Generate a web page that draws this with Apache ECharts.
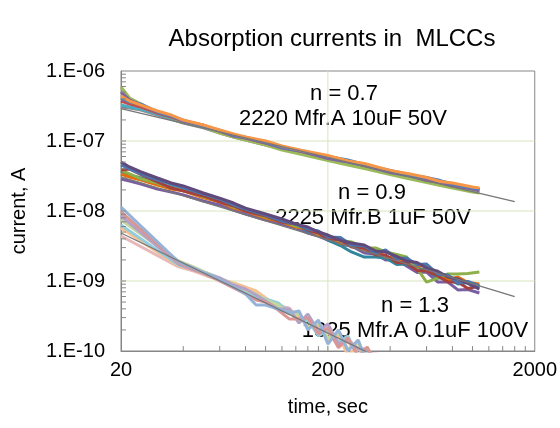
<!DOCTYPE html>
<html><head><meta charset="utf-8">
<script src="https://cdn.jsdelivr.net/npm/echarts@6/dist/echarts.min.js"></script>
<style>html,body{margin:0;padding:0;background:#fff}#c{width:560px;height:428px}</style>
</head><body><div id="c"></div>
<script>
// ---- axis ticks / grid ----
const X_LABELS = [20, 200, 2000];
const X_GRID = [200];
const X_MINOR = [40, 60, 80, 100, 120, 140, 160, 180, 200, 400, 600, 800, 1000, 1200, 1400, 1600, 1800];
const Y_MAJOR = [1e-10, 1e-9, 1e-8, 1e-7, 1e-6];
const Y_GRID = [1e-9, 1e-8, 1e-7];
const Y_MINOR = [2e-10,3e-10,4e-10,5e-10,6e-10,7e-10,8e-10,9e-10,1e-9,2e-9,3e-9,4e-9,5e-9,6e-9,7e-9,8e-9,9e-9,1e-8,
  2e-8,3e-8,4e-8,5e-8,6e-8,7e-8,8e-8,9e-8,1e-7,2e-7,3e-7,4e-7,5e-7,6e-7,7e-7,8e-7,9e-7];

// ---- group A: 2220 Mfr.A 10uF 50V ----
const TIME_A = [20, 22, 25, 30, 35, 40, 50, 60, 70, 80, 100, 120, 150, 200, 250, 300, 400, 500, 600, 700, 800, 1000, 1080];
const A_GRAY   = [3.06e-7,2.96e-7,2.77e-7,2.35e-7,2.06e-7,1.81e-7,1.54e-7,1.30e-7,1.14e-7,1.03e-7,8.76e-8,7.68e-8,6.62e-8,5.44e-8,4.69e-8,4.18e-8,3.44e-8,2.96e-8,2.64e-8,2.39e-8,2.20e-8,1.93e-8,1.87e-8];
const A_AQUA   = [3.26e-7,3.06e-7,2.86e-7,2.43e-7,2.13e-7,1.87e-7,1.59e-7,1.35e-7,1.18e-7,1.06e-7,9.36e-8,7.94e-8,6.84e-8,5.81e-8,5.01e-8,4.33e-8,3.67e-8,3.16e-8,2.82e-8,2.55e-8,2.35e-8,2.13e-8,2.07e-8];
const A_GREEN  = [5.90e-7,4.12e-7,3.38e-7,2.59e-7,2.20e-7,1.87e-7,1.59e-7,1.30e-7,1.14e-7,1.03e-7,8.76e-8,7.43e-8,6.41e-8,5.26e-8,4.54e-8,4.05e-8,3.33e-8,2.86e-8,2.55e-8,2.31e-8,2.13e-8,1.87e-8,1.81e-8];
const A_RED    = [3.73e-7,3.38e-7,3.06e-7,2.51e-7,2.20e-7,1.93e-7,1.69e-7,1.39e-7,1.22e-7,1.10e-7,9.36e-8,8.20e-8,7.07e-8,5.81e-8,5.18e-8,4.47e-8,3.67e-8,3.26e-8,2.82e-8,2.63e-8,2.35e-8,2.13e-8,2.00e-8];
const A_PURPLE = [5.01e-7,3.86e-7,3.27e-7,2.59e-7,2.27e-7,1.93e-7,1.64e-7,1.39e-7,1.18e-7,1.10e-7,9.36e-8,7.94e-8,7.07e-8,5.62e-8,5.01e-8,4.47e-8,3.55e-8,3.16e-8,2.73e-8,2.55e-8,2.27e-8,2.06e-8,1.94e-8];
const A_BLUE   = [4.11e-7,3.61e-7,3.38e-7,2.60e-7,2.28e-7,1.98e-7,1.64e-7,1.43e-7,1.22e-7,1.13e-7,9.67e-8,8.20e-8,7.28e-8,6.00e-8,5.35e-8,4.62e-8,3.80e-8,3.26e-8,3.02e-8,2.72e-8,2.43e-8,2.13e-8,2.07e-8];
const A_ORANGE = [4.39e-7,3.73e-7,3.25e-7,2.68e-7,2.35e-7,1.99e-7,1.69e-7,1.44e-7,1.26e-7,1.14e-7,1.00e-7,8.47e-8,7.30e-8,6.21e-8,5.18e-8,4.77e-8,3.79e-8,3.37e-8,3.01e-8,2.63e-8,2.51e-8,2.20e-8,2.14e-8];

// ---- group B: 2225 Mfr.B 1uF 50V ----
const TIME_B = [20, 22, 25, 30, 35, 40, 50, 60, 70, 80, 100, 120, 140, 160, 180, 200, 230, 260, 300, 340, 380, 430, 480, 540, 600, 680, 760, 850, 950, 1080];
const B_PURPLE   = [2.87e-8,2.68e-8,2.43e-8,2.06e-8,1.87e-8,1.70e-8,1.39e-8,1.22e-8,1.03e-8,9.03e-9,7.44e-9,6.52e-9,5.72e-9,4.85e-9,4.39e-9,3.85e-9,3.32e-9,3.16e-9,2.51e-9,2.43e-9,2.00e-9,2.03e-9,1.64e-9,1.32e-9,1.34e-9,9.65e-10,9.69e-10,7.45e-10,7.57e-10,6.74e-10];
const B_TEAL     = [3.73e-8,3.27e-8,2.96e-8,2.43e-8,2.20e-8,1.94e-8,1.64e-8,1.35e-8,1.18e-8,9.97e-9,8.48e-9,6.97e-9,6.31e-9,5.18e-9,4.85e-9,3.85e-9,3.21e-9,2.60e-9,2.20e-9,2.20e-9,2.13e-9,1.72e-9,1.75e-9,1.46e-9,1.48e-9,1.10e-9,1.10e-9,9.07e-10,9.53e-10,8.21e-10];
const B_ORANGE   = [3.38e-8,3.06e-8,2.77e-8,2.35e-8,2.06e-8,1.94e-8,1.54e-8,1.35e-8,1.10e-8,9.97e-9,7.94e-9,6.97e-9,5.91e-9,5.53e-9,4.54e-9,4.39e-9,3.43e-9,3.38e-9,2.77e-9,2.77e-9,2.20e-9,2.17e-9,1.81e-9,1.66e-9,1.63e-9,1.25e-9,1.03e-9,1.14e-9,9.53e-10,9.06e-10];
const B_GREEN    = [3.85e-8,3.38e-8,2.87e-8,2.51e-8,2.13e-8,2.00e-8,1.59e-8,1.39e-8,1.14e-8,1.03e-8,8.21e-9,7.20e-9,6.11e-9,5.71e-9,4.69e-9,4.39e-9,3.79e-9,3.61e-9,2.96e-9,2.96e-9,2.60e-9,2.40e-9,2.20e-9,1.51e-9,9.65e-10,1.10e-9,1.26e-9,1.26e-9,1.28e-9,1.34e-9];
const B_RED      = [3.85e-8,3.98e-8,3.31e-8,2.60e-8,2.13e-8,1.94e-8,1.64e-8,1.35e-8,1.18e-8,9.97e-9,8.48e-9,6.97e-9,6.52e-9,5.35e-9,4.85e-9,3.98e-9,3.92e-9,3.06e-9,2.96e-9,2.35e-9,2.35e-9,1.84e-9,1.81e-9,1.41e-9,1.39e-9,1.18e-9,9.69e-10,9.69e-10,7.81e-10,8.48e-10];
const B_BLUE     = [4.54e-8,3.98e-8,3.38e-8,2.77e-8,2.43e-8,2.14e-8,1.75e-8,1.48e-8,1.22e-8,1.06e-8,8.76e-9,7.20e-9,6.50e-9,5.53e-9,5.18e-9,4.25e-9,4.18e-9,3.27e-9,3.16e-9,2.51e-9,2.77e-9,2.10e-9,2.13e-9,1.72e-9,1.75e-9,1.25e-9,1.22e-9,9.38e-10,9.84e-10,8.50e-10];
const B_DKPURPLE = [5.02e-8,4.26e-8,3.61e-8,2.96e-8,2.51e-8,2.28e-8,1.81e-8,1.53e-8,1.30e-8,1.10e-8,9.06e-9,7.69e-9,6.52e-9,5.91e-9,5.01e-9,4.54e-9,3.79e-9,3.49e-9,3.27e-9,2.68e-9,2.60e-9,2.24e-9,1.93e-9,1.84e-9,1.53e-9,1.38e-9,1.14e-9,1.07e-9,9.21e-10,7.68e-10];

// ---- group C: 1825 Mfr.A 0.1uF 100V ----
const TIME_C = [20, 38, 45, 52, 60, 70, 80, 90, 100, 115, 130, 145, 160, 180, 200, 225, 250, 280, 310, 350];
const C_LTPINK   = [4.40e-9,1.59e-9,1.39e-9,1.18e-9,1.04e-9,8.49e-10,7.43e-10,6.52e-10,5.53e-10,4.39e-10,4.12e-10,2.86e-10,2.87e-10,1.87e-10,1.87e-10,1.18e-10,1.35e-10,9.06e-11,9.37e-11,9.07e-11];
const C_LTORANGE = [5.72e-9,1.64e-9,1.43e-9,1.22e-9,1.07e-9,9.37e-10,8.20e-10,7.20e-10,5.71e-10,4.25e-10,3.85e-10,3.06e-10,2.28e-10,2.35e-10,1.39e-10,1.64e-10,8.78e-11,1.14e-10,7.20e-11,8.21e-11];
const C_LTAQUA   = [6.31e-9,1.69e-9,1.48e-9,1.30e-9,1.11e-9,8.77e-10,7.19e-10,5.91e-10,5.53e-10,4.85e-10,3.61e-10,2.68e-10,2.78e-10,1.64e-10,2.00e-10,1.35e-10,1.64e-10,7.95e-11,1.00e-10,7.20e-11];
const C_LTGREEN  = [7.44e-9,1.93e-9,1.58e-9,1.30e-9,1.07e-9,9.06e-10,7.43e-10,6.52e-10,5.35e-10,4.54e-10,3.38e-10,3.38e-10,2.20e-10,2.51e-10,1.53e-10,1.81e-10,1.07e-10,1.30e-10,7.68e-11,7.69e-11];
const C_LAVENDER = [8.49e-9,1.75e-9,1.43e-9,1.26e-9,1.11e-9,8.77e-10,7.68e-10,6.31e-10,5.18e-10,3.98e-10,3.98e-10,2.51e-10,3.38e-10,1.93e-10,2.43e-10,1.26e-10,1.44e-10,1.07e-10,1.07e-10,6.31e-11];
const C_PINK     = [9.68e-9,1.81e-9,1.48e-9,1.22e-9,1.00e-9,7.95e-10,6.52e-10,5.35e-10,5.01e-10,3.85e-10,2.87e-10,2.86e-10,2.97e-10,1.75e-10,2.13e-10,1.11e-10,1.54e-10,8.49e-11,1.14e-10,5.72e-11];
const C_LTBLUE   = [1.14e-8,1.87e-9,1.53e-9,1.26e-9,1.04e-9,8.21e-10,6.52e-10,4.54e-10,4.54e-10,3.98e-10,3.49e-10,3.73e-10,2.00e-10,2.77e-10,1.26e-10,2.00e-10,1.00e-10,1.44e-10,6.74e-11,8.77e-11];

// ---- power-law trend lines ----
const TREND_T_AB = [20, 1600];
const TREND_A = [2.91e-7, 1.36e-8];
const TREND_B = [3.08e-8, 5.97e-10];
const TREND_T_C = [20, 320];
const TREND_C = [4.85e-9, 9.2e-11];

const FONT = "'Liberation Sans', Arial, sans-serif";
const AX = '#868686', GRID_C = '#D7E4BD';
const X_MIN = 20, X_MAX = 2000, Y_MIN = 1e-10, Y_MAX = 1e-6;
// tick length expressed as a fraction of a decade on each log axis (~5 px)
const TICK_DEC_X = 0.024, TICK_DEC_Y = 0.07;
const zip = (t, v) => t.map((x, i) => [x, v[i]]);
const GAP = ['-', '-'];

const groups = [
  [TIME_A, [[A_GRAY,'#8C8C8C'],[A_AQUA,'#4BACC6'],[A_GREEN,'#9BBB59'],[A_RED,'#C0504D'],[A_PURPLE,'#8064A2'],[A_BLUE,'#4F81BD'],[A_ORANGE,'#F79646']]],
  [TIME_B, [[B_PURPLE,'#7A5FA0'],[B_TEAL,'#31859C'],[B_ORANGE,'#E46C0A'],[B_GREEN,'#8DB04A'],[B_RED,'#A5403D'],[B_BLUE,'#4A75AE'],[B_DKPURPLE,'#604A7B']]],
  [TIME_C, [[C_LTPINK,'#E6B9B8'],[C_LTORANGE,'#FAC090'],[C_LTAQUA,'#93CDDD'],[C_LTGREEN,'#C3D69B'],[C_LAVENDER,'#B3A2C7'],[C_PINK,'#D99694'],[C_LTBLUE,'#95B3D7']]]
];

const plain = (data, color, width, z) => ({
  type: 'line', data: data, symbol: 'none', silent: true, z: z, connectNulls: false,
  lineStyle: { width: width, color: color }, itemStyle: { color: color }, clip: true
});

const series = [];
// gridlines
Y_GRID.forEach(v => series.push(plain([[X_MIN, v], [X_MAX, v]], GRID_C, 1, 1)));
X_GRID.forEach(t => series.push(plain([[t, Y_MIN], [t, Y_MAX]], GRID_C, 1, 1)));
// minor ticks (inside)
const xTicks = [], yTicks = [];
X_MINOR.forEach(t => { xTicks.push([t, Y_MIN], [t, Y_MIN * Math.pow(10, TICK_DEC_Y)], GAP); });
Y_MINOR.forEach(v => { yTicks.push([X_MIN, v], [X_MIN * Math.pow(10, TICK_DEC_X), v], GAP); });
series.push(plain(xTicks, AX, 1, 6));
series.push(plain(yTicks, AX, 1, 6));

groups.forEach(([t, list]) => {
  list.forEach(([vals, col]) => series.push(plain(zip(t, vals), col, 3, 2)));
});
[[TREND_T_AB, TREND_A], [TREND_T_AB, TREND_B], [TREND_T_C, TREND_C]].forEach(([t, v]) => {
  series.push(plain(zip(t, v), '#777777', 1.3, 5));
});

const xFmt = v => String(Math.round(v < 10 ? Math.pow(10, v) : v));
const yFmt = v => {
  const e = v > 0 ? Math.round(Math.log10(v)) : Math.round(v);
  const a = Math.abs(e);
  return '1.E' + (e < 0 ? '-' : '+') + (a < 10 ? '0' + a : String(a));
};

const txt = (x, y, s, size) => ({
  type: 'text', x: x, y: y, silent: true,
  style: { text: s, fontSize: size, fontFamily: FONT, fill: '#000', align: 'center', verticalAlign: 'middle' }
});

const chart = echarts.init(document.getElementById('c'), null, { renderer: 'canvas' });
chart.setOption({
  animation: false,
  backgroundColor: '#fff',
  grid: { left: 121, right: 21, top: 71, bottom: 77, show: true, borderColor: AX, borderWidth: 1, backgroundColor: 'transparent' },
  xAxis: {
    type: 'log', logBase: 10, min: X_MIN, max: X_MAX,
    name: 'time, sec', nameLocation: 'middle', nameGap: 46,
    nameTextStyle: { fontSize: 20, fontFamily: FONT, color: '#000' },
    axisLine: { show: true, lineStyle: { color: AX } },
    axisTick: { show: false, customValues: X_LABELS },
    axisLabel: { customValues: X_LABELS, formatter: xFmt, fontSize: 20, fontFamily: FONT, color: '#000', margin: 9 },
    splitLine: { show: false },
    minorTick: { show: false }
  },
  yAxis: {
    type: 'log', logBase: 10, min: Y_MIN, max: Y_MAX,
    name: 'current, A', nameLocation: 'middle', nameGap: 92, nameRotate: 90,
    nameTextStyle: { fontSize: 20, fontFamily: FONT, color: '#000' },
    axisLine: { show: true, lineStyle: { color: AX } },
    axisTick: { show: false, customValues: Y_MAJOR },
    axisLabel: { customValues: Y_MAJOR, formatter: yFmt, fontSize: 20, fontFamily: FONT, color: '#000', margin: 16 },
    splitLine: { show: false },
    minorTick: { show: false }
  },
  series: series,
  graphic: [
    txt(332, 39, 'Absorption currents in  MLCCs', 24),
    txt(344, 94, 'n = 0.7', 22),
    txt(343, 119, '2220 Mfr.A 10uF 50V', 22),
    txt(372, 193, 'n = 0.9', 22),
    txt(373, 218, '2225 Mfr.B 1uF 50V', 22),
    txt(415, 306, 'n = 1.3', 22),
    txt(415, 331, '1825 Mfr.A 0.1uF 100V', 22)
  ]
});
</script>
</body></html>
